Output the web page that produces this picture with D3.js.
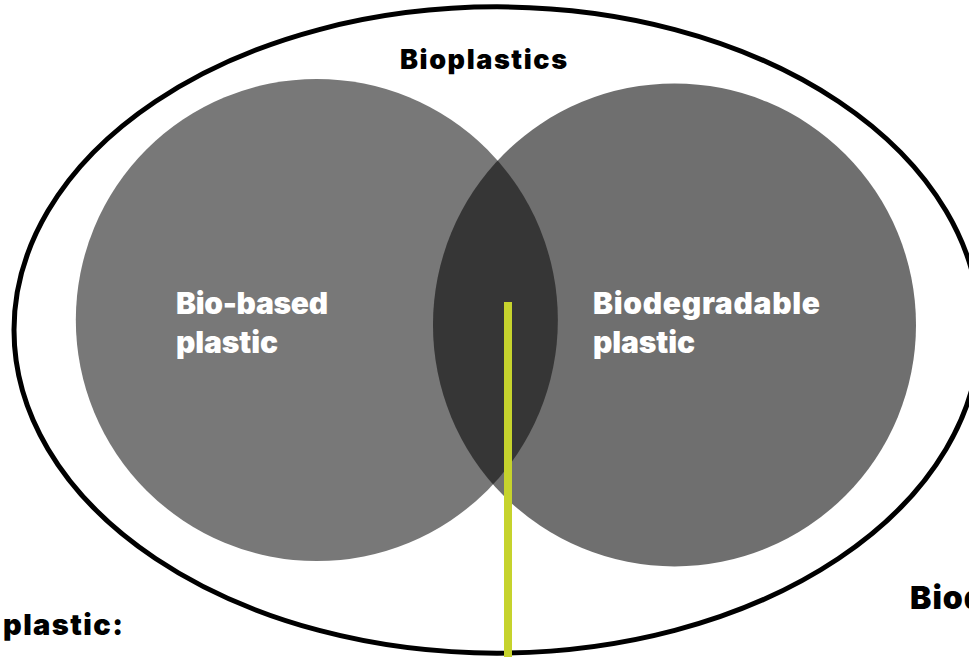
<!DOCTYPE html>
<html>
<head>
<meta charset="utf-8">
<script src="https://cdn.jsdelivr.net/npm/d3@7"></script>
<style>
  html, body { margin: 0; padding: 0; background: #ffffff; overflow: hidden; }
  svg { display: block; }
  text { font-family: Inter, "Open Sans", sans-serif; font-weight: 900; }
</style>
</head>
<body>
<svg id="chart" width="969" height="657"></svg>
<script>
// ---- data ----
const outerLabel = "Bioplastics";
const outerAspect = 0.669;                 // outer ellipse ry / rx
const setLabels = [["Bio-based", "plastic"], ["Biodegradable", "plastic"]];
// set circles in units of the outer ellipse's horizontal radius (centre 0,0)
const setCenterX = [-0.373, 0.3675];
const setCenterY = [-0.0207, -0.0104];
const setRadius  = [0.499, 0.500];
const setColors = ["#787878", "#6f6f6f"];
const overlapColor = "#363636";
const calloutLabels = ["plastic:", "Biod"];
const highlightColor = "#c6d32d";

// ---- scales ----
const W = 969, H = 657;
const pxPerUnit = 483;
const x = d3.scaleLinear().domain([-1, 1]).range([497 - pxPerUnit, 497 + pxPerUnit]);
const y = d3.scaleLinear().domain([-1, 1]).range([330 - pxPerUnit, 330 + pxPerUnit]);
const len = d => d * pxPerUnit;

const svg = d3.select("#chart");
const defs = svg.append("defs");

// outer ellipse
svg.append("ellipse")
  .attr("cx", x(0)).attr("cy", y(0))
  .attr("rx", len(1)).attr("ry", len(outerAspect))
  .attr("fill", "none").attr("stroke", "#000").attr("stroke-width", 5);

const sets = setLabels.map((l, i) => ({
  label: l, cx: setCenterX[i], cy: setCenterY[i], r: setRadius[i], color: setColors[i]
}));

svg.selectAll("circle.set").data(sets).enter().append("circle")
  .attr("class", "set")
  .attr("cx", d => x(d.cx)).attr("cy", d => y(d.cy))
  .attr("r", d => len(d.r))
  .attr("fill", d => d.color);

// overlap
defs.append("clipPath").attr("id", "clipA").append("circle")
  .attr("cx", x(sets[0].cx)).attr("cy", y(sets[0].cy)).attr("r", len(sets[0].r));
svg.append("circle")
  .attr("clip-path", "url(#clipA)")
  .attr("cx", x(sets[1].cx)).attr("cy", y(sets[1].cy)).attr("r", len(sets[1].r))
  .attr("fill", overlapColor);

// outer label
svg.append("text").attr("x", 400).attr("y", 69)
  .attr("font-size", 27).attr("fill", "#000")
  .attr("textLength", 167).attr("lengthAdjust", "spacing")
  .text(outerLabel);

// set labels
const labelX = [176, 593];
const line1Width = [152, 227];
sets.forEach((s, i) => {
  s.label.forEach((line, j) => {
    svg.append("text").attr("fill", "#fff").attr("font-size", 30)
      .attr("x", labelX[i]).attr("y", 314 + j * 39)
      .attr("textLength", j === 0 ? line1Width[i] : 102).attr("lengthAdjust", "spacing")
      .text(line);
  });
});

// highlight line
svg.append("line")
  .attr("x1", 508).attr("x2", 508).attr("y1", 302).attr("y2", H)
  .attr("stroke", highlightColor).attr("stroke-width", 8);

// partially visible callout labels
svg.append("text").attr("x", 3).attr("y", 635).attr("font-size", 29).attr("fill", "#000")
  .attr("textLength", 120).attr("lengthAdjust", "spacing").text(calloutLabels[0]);
svg.append("text").attr("x", 910).attr("y", 609).attr("font-size", 32).attr("fill", "#000")
  .attr("letter-spacing", 1).text(calloutLabels[1]);
</script>
</body>
</html>
